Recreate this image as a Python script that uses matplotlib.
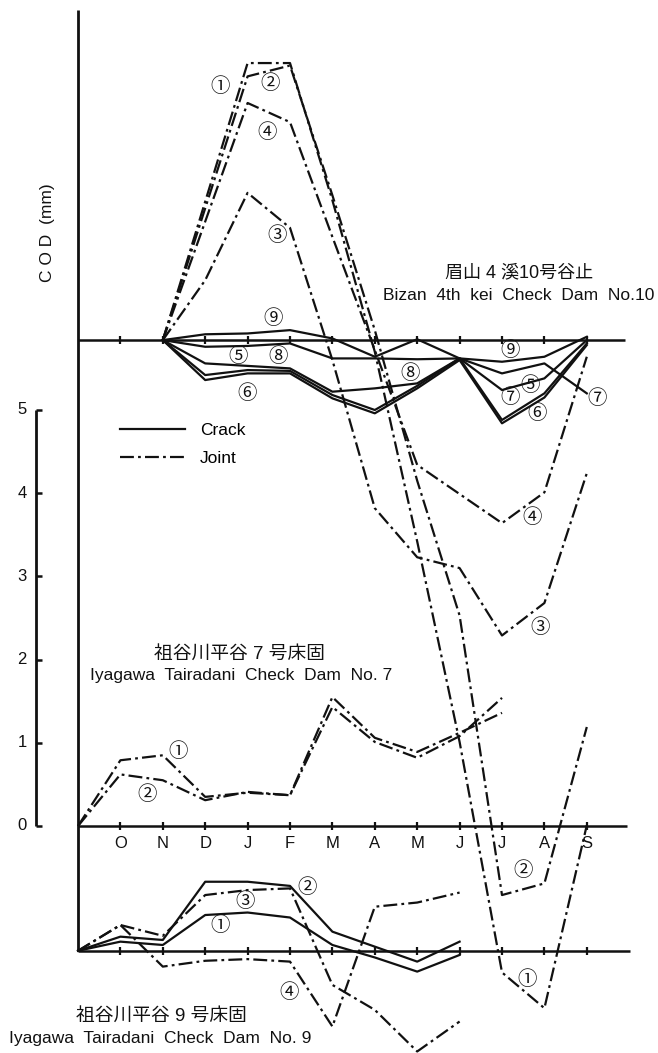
import numpy as np
import matplotlib.pyplot as plt
from matplotlib.lines import Line2D

plt.rcParams['font.family'] = ['Liberation Sans', 'Noto Sans CJK JP', 'DejaVu Sans']
plt.rcParams['lines.scale_dashes'] = False

# month axis (index 0 = start of record)
months = ['O', 'N', 'D', 'J', 'F', 'M', 'A', 'M', 'J', 'J', 'A', 'S']
month_pos = np.arange(1, 13)

# 眉山4溪10号谷止 joints (COD mm)
bz1_x = [2, 4, 5, 6, 7, 8, 9, 10, 11, 12]
bz1 = [0, 3.33, 3.33, 1.68, -0.14, -2.42, -4.83, -7.60, -8.03, -5.83]
bz2_x = [2, 4, 5, 6, 7, 8, 9, 10, 11, 12]
bz2 = [0, 3.17, 3.30, 1.74, 0.12, -1.69, -3.31, -6.67, -6.53, -4.65]
bz3_x = [2, 3, 4, 5, 6, 7, 8, 9, 10, 11, 12]
bz3 = [0, 0.72, 1.77, 1.35, -0.24, -2.02, -2.61, -2.74, -3.55, -3.16, -1.60]
bz4_x = [2, 4, 5, 6, 7, 8, 10, 11, 12]
bz4 = [0, 2.85, 2.62, 1.24, -0.12, -1.50, -2.20, -1.83, -0.20]

# 眉山 cracks
bzc_x = [2, 3, 4, 5, 6, 7, 8, 9, 10, 11, 12]
bz5 = [0, -0.42, -0.36, -0.37, -0.66, -0.84, -0.55, -0.22, -0.96, -0.64, -0.04]
bz6 = [0, -0.48, -0.40, -0.40, -0.70, -0.88, -0.58, -0.24, -1.00, -0.69, -0.06]
bz7 = [0, -0.08, -0.07, -0.04, -0.22, -0.22, -0.23, -0.22, -0.40, -0.28, -0.64]
bz8 = [0, -0.28, -0.31, -0.34, -0.62, -0.58, -0.52, -0.22, -0.60, -0.46, 0.0]
bz9 = [0, 0.07, 0.08, 0.12, 0.02, -0.20, 0.01, -0.22, -0.26, -0.20, 0.04]

# 祖谷川平谷7号床固 joints
iy7_x = [0, 1, 2, 3, 4, 5, 6, 7, 8, 9, 10]
iy7_1 = [0, 0.79, 0.85, 0.35, 0.40, 0.37, 1.55, 1.06, 0.89, 1.12, 1.36]
iy7_2 = [0, 0.62, 0.55, 0.31, 0.41, 0.37, 1.43, 1.01, 0.82, 1.08, 1.54]

# 祖谷川平谷9号床固 (1,2 crack, 3,4 joint)
iy9_x = [0, 1, 2, 3, 4, 5, 6, 7, 8, 9]
iy9_1 = [0, 0.11, 0.07, 0.43, 0.46, 0.40, 0.07, -0.08, -0.25, -0.05]
iy9_2 = [0, 0.17, 0.13, 0.83, 0.83, 0.78, 0.23, 0.05, -0.13, 0.11]
iy9_3 = [0, 0.31, 0.18, 0.67, 0.73, 0.75, -0.41, -0.71, -1.21, -0.85]
iy9_4 = [0, 0.31, -0.19, -0.12, -0.10, -0.13, -0.91, 0.53, 0.58, 0.70]

# baseline of each group on the common mm scale
top0, mid0, bot0 = 5.84, 0.0, -1.50

K = '#111111'
LW = 1.6
JOINT = (0, (10, 3, 2, 3))

fig = plt.figure(figsize=(6.58, 10.53), dpi=100)
ax = fig.add_axes([0, 0, 1, 1])
ax.set_xlim(-78 / 42.4, 580 / 42.4)
ax.set_ylim(-227 / 83.2, 826 / 83.2)
ax.axis('off')


def off(v, b):
    return np.asarray(v) + b


# axes frame
ax.plot([0, 0], [bot0, 9.81], color=K, lw=2.0, solid_capstyle='butt')
for b, xend in [(top0, 12.9), (mid0, 12.95), (bot0, 13.02)]:
    ax.plot([0, xend], [b, b], color=K, lw=1.8, solid_capstyle='butt')
    ax.plot(month_pos, [b] * len(month_pos), ls='none', marker='|',
            ms=6, mew=1.6, color=K)

for p, m in zip(month_pos, months):
    ax.text(p, mid0 - 0.21, m, ha='center', va='center', fontsize=12, color=K)

# scale bar
ax.plot([-0.99, -0.99], [0, 5], color=K, lw=2.0, solid_capstyle='butt')
ax.hlines(np.arange(6), -0.99, -0.85, color=K, lw=1.8)
for v in range(6):
    ax.text(-1.32, v, str(v), ha='center', va='center', fontsize=12, color=K)

ax.text(-0.73, 7.13, 'C O D  (mm)', rotation=90, ha='center', va='center',
        fontsize=12.5, color=K)

# 眉山
for xs, ys in [(bz1_x, bz1), (bz2_x, bz2), (bz3_x, bz3), (bz4_x, bz4)]:
    ax.plot(xs, off(ys, top0), color=K, lw=LW, ls=JOINT)
for ys in [bz5, bz6, bz7, bz8, bz9]:
    ax.plot(bzc_x, off(ys, top0), color=K, lw=LW)

# 祖谷川 7
for ys in [iy7_1, iy7_2]:
    ax.plot(iy7_x, off(ys, mid0), color=K, lw=LW, ls=JOINT)

# 祖谷川 9
for ys in [iy9_1, iy9_2]:
    ax.plot(iy9_x, off(ys, bot0), color=K, lw=LW)
for ys in [iy9_3, iy9_4]:
    ax.plot(iy9_x, off(ys, bot0), color=K, lw=LW, ls=JOINT)

# circled labels
tags = [
    ('①', 3.35, 3.05, top0), ('②', 4.53, 3.09, top0), ('④', 4.46, 2.50, top0),
    ('③', 4.69, 1.26, top0), ('⑨', 4.60, 0.26, top0), ('⑤', 3.77, -0.20, top0),
    ('⑧', 4.72, -0.20, top0), ('⑥', 3.99, -0.64, top0), ('⑧', 7.83, -0.40, top0),
    ('⑨', 10.19, -0.12, top0), ('⑦', 10.19, -0.69, top0), ('⑤', 10.66, -0.55, top0),
    ('⑥', 10.83, -0.88, top0), ('⑦', 12.24, -0.70, top0), ('④', 10.71, -2.13, top0),
    ('③', 10.90, -3.46, top0), ('②', 10.50, -6.37, top0), ('①', 10.59, -7.68, top0),
    ('①', 2.36, 0.90, mid0), ('②', 1.63, 0.38, mid0),
    ('②', 5.40, 0.76, bot0), ('③', 3.94, 0.59, bot0), ('①', 3.35, 0.31, bot0),
    ('④', 4.98, -0.50, bot0),
]
for t, x, y, b in tags:
    ax.text(x, y + b, t, ha='center', va='center', fontsize=14, color=K,
            family=['Noto Sans CJK JP', 'DejaVu Sans'])

# titles
ax.text(10.40, 6.65, '眉山 4 溪10号谷止', ha='center', va='center', fontsize=13, color=K)
ax.text(10.40, 6.38, 'Bizan  4th  kei  Check  Dam  No.10', ha='center', va='center',
        fontsize=12.5, color=K)
ax.text(3.82, 2.06, '祖谷川平谷 7 号床固', ha='center', va='center', fontsize=13.5, color=K)
ax.text(3.84, 1.81, 'Iyagawa  Tairadani  Check  Dam  No. 7', ha='center', va='center',
        fontsize=12.5, color=K)
ax.text(1.96, bot0 - 0.79, '祖谷川平谷 9 号床固', ha='center', va='center', fontsize=13.5, color=K)
ax.text(1.94, bot0 - 1.06, 'Iyagawa  Tairadani  Check  Dam  No. 9', ha='center', va='center',
        fontsize=12.5, color=K)

# legend
handles = [Line2D([], [], color=K, lw=LW),
           Line2D([], [], color=K, lw=LW, ls=JOINT)]
ax.legend(handles, ['Crack', 'Joint'], loc='upper left', bbox_to_anchor=(0.99, 4.85),
          bbox_transform=ax.transData, frameon=False, fontsize=12.5,
          handlelength=3.75, handletextpad=0.85, labelspacing=0.75,
          borderpad=0, borderaxespad=0)

fig.savefig('out.png', dpi=100, facecolor='white')
